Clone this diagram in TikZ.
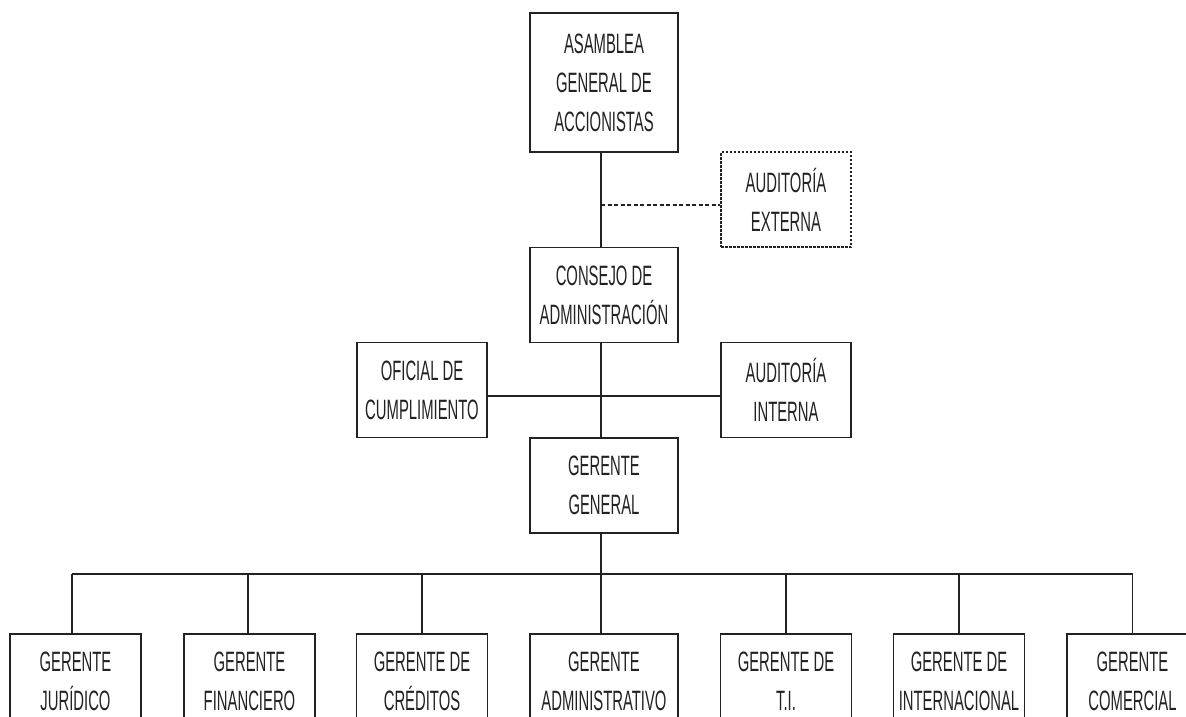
\documentclass[tikz,border=0pt]{standalone}
\usepackage{fontspec}
\setmainfont[FakeStretch=0.53]{Liberation Sans}
\definecolor{ink}{HTML}{222222}
\begin{document}
\begin{tikzpicture}[x=1pt,y=-1pt,
  box/.style={draw=ink, line width=1.4pt, rectangle, align=center, inner sep=0pt,
    text=ink, font=\fontsize{28pt}{39pt}\selectfont},
  wbox/.style={box, minimum width=148pt, minimum height=95pt},
  nbox/.style={box, minimum width=130pt, minimum height=95pt},
  link/.style={draw=ink, line width=1.2pt},
  dlink/.style={draw=ink, line width=1.2pt, dash pattern=on 4pt off 2.5pt},
  dbox/.style={nbox, line width=1.1pt, dash pattern=on 2.5pt off 1.5pt}]
\useasboundingbox (0,0) rectangle (1186,716);
\clip (0,0) rectangle (1186,716);
\fill[white] (0,0) rectangle (1186,716);
% top hierarchy
\node[wbox, minimum height=139pt] (asamblea) at (604,82.5) {ASAMBLEA\\GENERAL DE\\ACCIONISTAS};
\node[dbox] (externa) at (786,199.5) {AUDITORÍA\\EXTERNA};
\node[wbox] (consejo) at (604,295) {CONSEJO DE\\ADMINISTRACIÓN};
\node[nbox] (oficial) at (422,390) {OFICIAL DE\\CUMPLIMIENTO};
\node[nbox] (interna) at (786,390) {AUDITORÍA\\INTERNA};
\node[wbox] (gerente) at (604,485.5) {GERENTE\\GENERAL};
% bottom row
\node[nbox, minimum width=131pt] (jur) at (75.5,681.5) {GERENTE\\JURÍDICO};
\node[nbox, minimum width=131pt] (fin) at (249.5,681.5) {GERENTE\\FINANCIERO};
\node[nbox, minimum width=131pt] (cre) at (422,681.5) {GERENTE DE\\CRÉDITOS};
\node[wbox] (adm) at (604,681.5) {GERENTE\\ADMINISTRATIVO};
\node[nbox, minimum width=131pt] (ti) at (786,681.5) {GERENTE DE\\T.I.};
\node[nbox, minimum width=131pt] (int) at (959,681.5) {GERENTE DE\\INTERNACIONAL};
\node[nbox, minimum width=131pt] (com) at (1132.5,681.5) {GERENTE\\COMERCIAL};
% connectors
\coordinate (ext) at (601,205);
\coordinate (mid) at (601,396);
\coordinate (bus) at (601,574);
\draw[link] ([xshift=-3pt]asamblea.south) -- ([xshift=-3pt]consejo.north);
\draw[dlink] (ext) -- (ext -| externa.west);
\draw[link] ([xshift=-3pt]consejo.south) -- ([xshift=-3pt]gerente.north);
\draw[link] (mid -| oficial.east) -- (mid -| interna.west);
\draw[link] ([xshift=-3pt]gerente.south) -- (bus);
\draw[link] ([xshift=-3.5pt]jur.north |- bus) -- (com.north |- bus);
\draw[link] ([xshift=-3.5pt]jur.north) -- ([xshift=-3.5pt]jur.north |- bus);
\draw[link] ([xshift=-1.5pt]fin.north) -- ([xshift=-1.5pt]fin.north |- bus);
\draw[link] (cre.north) -- (cre.north |- bus);
\draw[link] ([xshift=-3pt]adm.north) -- ([xshift=-3pt]adm.north |- bus);
\draw[link] (ti.north) -- (ti.north |- bus);
\draw[link] (int.north) -- (int.north |- bus);
\draw[link] (com.north) -- (com.north |- bus);
\end{tikzpicture}
\end{document}
